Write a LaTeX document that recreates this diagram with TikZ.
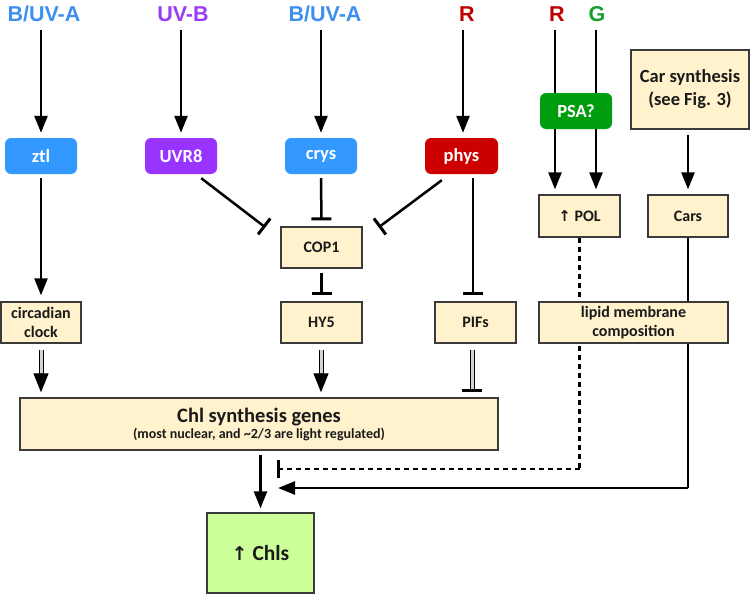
\documentclass[tikz,border=0pt]{standalone}
\usepackage{fontspec}
\setmainfont{Carlito}
\newfontfamily\labfont{Liberation Sans}
\newfontfamily\symfont{DejaVu Sans}
\usetikzlibrary{arrows.meta,backgrounds,calc}
\definecolor{cblue}{HTML}{3399FF}
\definecolor{cpurple}{HTML}{9933FF}
\definecolor{cred}{HTML}{CC0000}
\definecolor{cgreen}{HTML}{009E0F}
\definecolor{lblue}{HTML}{3D8FF0}
\definecolor{lpurple}{HTML}{9B3CF5}
\definecolor{lred}{HTML}{C00000}
\definecolor{lgreen}{HTML}{12A02A}
\definecolor{cream}{HTML}{FFF2CC}
\definecolor{chlsfill}{HTML}{CCFF99}
\definecolor{boxline}{HTML}{3A3A3A}
\definecolor{txt}{HTML}{1A1A1A}
\begin{document}
\begin{tikzpicture}[x=1pt,y=-1pt,
  toplab/.style={font=\labfont\bfseries\fontsize{21.5}{22}\selectfont, inner sep=0pt},
  photo/.style={rounded corners=6pt, minimum width=72pt, minimum height=36pt, text=white,
    font=\bfseries\fontsize{18.5}{20}\selectfont, inner sep=0pt},
  cbox/.style={draw=boxline, line width=1.3pt, fill=cream, text=txt, align=center,
    font=\bfseries\fontsize{16}{19}\selectfont, inner sep=0pt},
  arr/.style={line width=2.5pt, -{Triangle[length=17pt,width=13pt]}},
  inh/.style={line width=2.5pt, -{Bar[width=20pt,line width=3pt]}},
  dbl/.style={draw=black, double=gray!35, double distance=3pt, line width=1pt},
  dtip/.style={line width=1pt, -{Triangle[length=19pt,width=15pt]}},
  dbar/.style={line width=1pt, -{Bar[width=20pt,line width=3pt]}},
  dsh/.style={line width=2.3pt, dash pattern=on 5pt off 4pt},
]
\useasboundingbox (0,0) rectangle (752,594);

% top labels
\node[toplab, text=lblue]   (bl1) at (44,14)  {B/UV-A};
\node[toplab, text=lpurple] (uvb) at (183,14) {UV-B};
\node[toplab, text=lblue]   (bl2) at (325,14) {B/UV-A};
\node[toplab, text=lred]    (r1)  at (467,14) {R};
\node[toplab, text=lred]    (r2)  at (557,14) {R};
\node[toplab, text=lgreen]  (g)   at (597,14) {G};

% photoreceptors
\node[photo, fill=cblue]   (ztl)  at (41,156)  {ztl};
\node[photo, fill=cpurple] (uvr8) at (181,156) {UVR8};
\node[photo, fill=cblue]   (crys) at (321,156) {crys};
\node[photo, fill=cred, minimum width=73pt] (phys) at (461.5,156) {phys};

% cream boxes
\node[cbox, minimum width=81pt, minimum height=42pt] (pol) at (579.5,216) {{\symfont\bfseries\fontsize{15}{16}\selectfont ↑} POL};
\node[cbox, minimum width=118pt, minimum height=79pt, font=\bfseries\fontsize{18.5}{23}\selectfont] (carsyn) at (690,89.5) {Car synthesis\\(see Fig. 3)};
\node[cbox, minimum width=80pt, minimum height=42pt] (cars) at (688,216) {Cars};
\node[cbox, minimum width=81pt, minimum height=41pt] (cop1) at (321.5,247.5) {COP1};
\node[cbox, minimum width=80pt, minimum height=41pt] (clock) at (41,322.5) {circadian\\clock};
\node[cbox, minimum width=81pt, minimum height=41pt] (hy5) at (321.5,322.5) {HY5};
\node[cbox, minimum width=81pt, minimum height=41pt] (pifs) at (475.5,322.5) {PIFs};
\node[cbox, minimum width=478pt, minimum height=52pt] (chl) at (259,424)
  {{\fontsize{20.5}{21}\selectfont Chl synthesis genes}\\[-3pt]{\fontsize{14}{15}\selectfont (most nuclear, and \symbol{"7E}2/3 are light regulated)}};
\node[cbox, fill=chlsfill, minimum width=107pt, minimum height=80pt, font=\bfseries\fontsize{21.5}{23}\selectfont] (chls) at (260.5,553) {{\symfont\bfseries\fontsize{19}{20}\selectfont ↑} Chls};

% coordinates for the long feedback lines
\coordinate (dcorner) at (pol.south |- 0,469);
\coordinate (dend) at (277,469);
\coordinate (ccorner) at (cars.south |- 0,488);
\coordinate (cend) at (278,488);

% lines passing behind boxes
\begin{scope}[on background layer]
  \draw[arr, shorten <=8pt, shorten >=5pt] (pol.north -| 555,0) coordinate (rpol) (rpol |- r2.south) -- (rpol);
  \draw[arr, shorten <=8pt, shorten >=5pt] (pol.north -| 596,0) coordinate (gpol) (gpol |- g.south) -- (gpol);
  \draw[dsh] (pol.south) -- (dcorner);
  \draw[line width=2.5pt] (cars.south) -- (ccorner);
\end{scope}
\node[photo, fill=cgreen] (psa) at (576,111) {PSA?};
\node[cbox, minimum width=189pt, minimum height=41pt] (lipid) at (633.5,322.5) {lipid membrane\\composition};

% light -> photoreceptors
\draw[arr, shorten <=8pt, shorten >=5pt] (ztl.north |- bl1.south) -- (ztl.north);
\draw[arr, shorten <=8pt, shorten >=5pt] (uvr8.north |- uvb.south) -- (uvr8.north);
\draw[arr, shorten <=8pt, shorten >=5pt] (crys.north |- bl2.south) -- (crys.north);
\draw[arr, shorten <=8pt, shorten >=5pt] (463,0 |- r1.south) -- (463,0 |- phys.north);
\draw[arr, shorten <=5pt, shorten >=5pt] (carsyn.south -| cars.north) -- (cars.north);

% signalling
\draw[arr, shorten <=4pt, shorten >=6pt] (ztl.south) -- (clock.north);
\draw[inh] ($(uvr8.south east)+(-16,4)$) -- ($(cop1.north west)+(-15,1)$);
\draw[inh] ($(phys.south west)+(17,6)$) -- ($(cop1.north east)+(16,1)$);
\draw[inh, shorten <=4pt, shorten >=6pt] (crys.south) -- (cop1.north);
\draw[inh, shorten <=4pt, shorten >=6pt] (cop1.south) -- (hy5.north);
\draw[inh, shorten <=4pt, shorten >=6pt] (phys.south -| 473,0) -- (pifs.north -| 473,0);

% double-lined connectors to Chl synthesis genes
\draw[dbl, shorten <=6pt, shorten >=22pt] (clock.south) -- (clock.south |- chl.north);
\draw[dtip, shorten <=29pt, shorten >=5pt] (clock.south) -- (clock.south |- chl.north);
\draw[dbl, shorten <=6pt, shorten >=22pt] (hy5.south -| 321,0) -- (chl.north -| 321,0);
\draw[dtip, shorten <=29pt, shorten >=5pt] (hy5.south -| 321,0) -- (chl.north -| 321,0);
\draw[dbl, shorten <=6pt, shorten >=6pt] (pifs.south -| 472,0) -- (chl.north -| 472,0);
\draw[dbar, shorten <=46pt, shorten >=5pt] (pifs.south -| 472,0) -- (chl.north -| 472,0);

% feedback lines ends
\draw[dsh, -{Bar[width=18pt,line width=2.5pt]}] (dcorner) -- (dend);
\draw[arr] (ccorner) -- (cend);

% Chl synthesis -> Chls
\draw[arr, shorten <=4pt, shorten >=4pt] (chls.north |- chl.south) -- (chls.north);
\end{tikzpicture}
\end{document}
